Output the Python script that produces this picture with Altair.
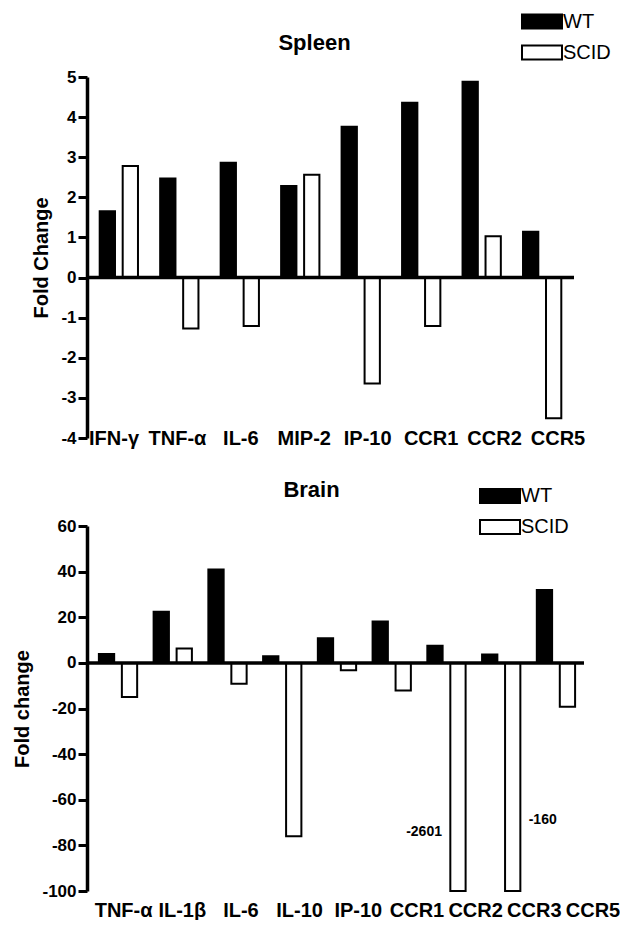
import altair as alt
import pandas as pd

FONT = "Liberation Sans, Arial, Helvetica, sans-serif"
groups = ["WT", "SCID"]

# ---- Spleen ----
spleen_genes = ["IFN-γ", "TNF-α", "IL-6", "MIP-2", "IP-10", "CCR1", "CCR2", "CCR5"]
spleen_wt = [1.65, 2.47, 2.86, 2.28, 3.76, 4.36, 4.88, 1.14]
spleen_scid = [2.78, -1.27, -1.21, 2.56, -2.64, -1.21, 1.03, -3.51]
spleen_ticks = [-4, -3, -2, -1, 0, 1, 2, 3, 4, 5]

# ---- Brain ----
brain_genes = ["TNF-α", "IL-1β", "IL-6", "IL-10", "IP-10", "CCR1", "CCR2", "CCR3", "CCR5"]
brain_wt = [3.9, 22.4, 40.9, 2.9, 10.8, 18.1, 7.5, 3.7, 31.9]
brain_scid = [-15.0, 6.3, -9.2, -76.0, -3.2, -12.1, -2601, -160, -19.2]
brain_ticks = [-100, -80, -60, -40, -20, 0, 20, 40, 60]

# annotations for off-scale bars (brain, SCID)
note_gene = ["CCR2", "CCR3"]
note_text = ["-2601", "-160"]
note_level = [-74, -69]


def long_df(genes, wt, scid):
    rows = []
    for g, a, b in zip(genes, wt, scid):
        rows.append({"gene": g, "group": "WT", "value": a})
        rows.append({"gene": g, "group": "SCID", "value": b})
    return pd.DataFrame(rows)


def panel(title, title_dx, title_offset, genes, wt, scid, ydomain, yvalues, ytitle, width, height,
          pad_inner, pad_outer, off_inner, label_range, label_baseline, label_padding,
          legend_x, legend_y, clamp=False, notes=False):
    df = long_df(genes, wt, scid)
    xscale = alt.Scale(domain=genes, paddingInner=pad_inner, paddingOuter=pad_outer)
    offscale = alt.Scale(domain=groups, paddingInner=off_inner, paddingOuter=0)
    yscale = alt.Scale(domain=ydomain, nice=False, clamp=clamp, zero=True)
    yaxis = alt.Axis(
        values=yvalues, title=ytitle, labelExpr="toString(datum.value)", grid=False,
        domainColor="black", domainWidth=3.5, tickColor="black", tickWidth=3, tickSize=9,
        labelFont=FONT, labelFontSize=17, labelFontWeight="bold", labelColor="black",
        labelPadding=2, titleFont=FONT, titleFontSize=20, titleFontWeight="bold",
        titleColor="black", titlePadding=9,
    )
    legend = alt.Legend(
        title=None, orient="none", legendX=legend_x, legendY=legend_y, padding=0,
        symbolType="M-2,-0.7H2V0.7H-2Z", symbolSize=400, symbolStrokeColor="black",
        symbolStrokeWidth=2, labelFont=FONT, labelFontSize=20, labelColor="black",
        labelOffset=10, rowPadding=9,
    )
    bars = alt.Chart(df).mark_bar(stroke="black", strokeWidth=2).encode(
        x=alt.X("gene:N", scale=xscale, axis=None),
        xOffset=alt.XOffset("group:N", scale=offscale),
        y=alt.Y("value:Q", scale=yscale, axis=yaxis),
        fill=alt.Fill("group:N", scale=alt.Scale(domain=groups, range=["black", "white"]),
                      legend=legend),
    )
    zero = alt.Chart(pd.DataFrame({"z": [0]})).mark_rule(color="black", strokeWidth=3.5).encode(
        y=alt.Y("z:Q", scale=yscale)
    )
    inner_layers = [bars, zero]
    if notes:
        ndf = pd.DataFrame({"gene": note_gene, "group": ["SCID", "SCID"],
                            "text": note_text, "level": note_level})
        base = alt.Chart(ndf).encode(
            x=alt.X("gene:N", scale=xscale, axis=None),
            xOffset=alt.XOffset("group:N", scale=offscale),
            y=alt.Y("level:Q", scale=yscale),
            text="text:N",
        )
        left = base.transform_filter(alt.datum.gene == note_gene[0]).mark_text(
            align="right", baseline="middle", dx=-16, font=FONT, fontSize=14,
            fontWeight="bold", color="black")
        right = base.transform_filter(alt.datum.gene == note_gene[1]).mark_text(
            align="left", baseline="middle", dx=16, font=FONT, fontSize=14,
            fontWeight="bold", color="black")
        inner_layers += [left, right]
    inner = alt.layer(*inner_layers)

    labels = alt.Chart(pd.DataFrame({"gene": genes})).mark_point(opacity=0).encode(
        x=alt.X("gene:N",
                scale=alt.Scale(type="band", domain=genes, range=label_range,
                                paddingInner=0, paddingOuter=0),
                axis=alt.Axis(orient="bottom", domain=False, ticks=False, tickSize=0,
                              labelAngle=0, labelFont=FONT, labelFontSize=20,
                              labelFontWeight="bold", labelColor="black",
                              labelPadding=label_padding, labelBaseline=label_baseline,
                              title=None, grid=False, labelOverlap=False))
    )
    return alt.layer(inner, labels).resolve_scale(x="independent").properties(
        width=width, height=height,
        title=alt.TitleParams(title, font=FONT, fontSize=22, fontWeight="bold", color="black",
                              anchor="middle", frame="group", dx=title_dx,
                              offset=title_offset),
    )


spleen = panel("Spleen", -16, -44, spleen_genes, spleen_wt, spleen_scid, [-4, 5], spleen_ticks,
               "Fold Change", 487, 361, 0.367, 0.21, 0.335, [-4.7, 502.7], "middle", 0,
               444, -66.5)
brain = panel("Brain", -24, -17, brain_genes, brain_wt, brain_scid, [-100, 60], brain_ticks,
              "Fold change", 497, 365, 0.355, 0.217, 0.30, [7.3, 535.3], "top", 9,
              402, -41, clamp=True, notes=True)

chart = alt.vconcat(spleen, brain, spacing=31).resolve_legend(fill="independent").properties(
    padding={"left": 4, "top": 2, "right": 0, "bottom": 0}, background="white"
).configure_view(stroke=None)

chart.save("out.html", embed_options={"renderer": "svg", "actions": False})
